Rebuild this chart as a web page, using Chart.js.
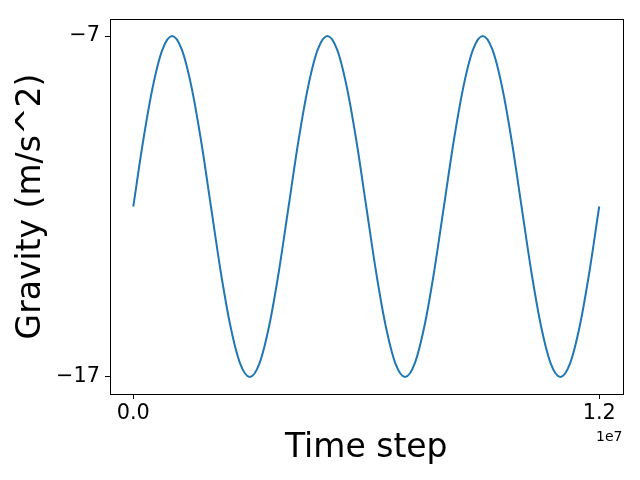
<!DOCTYPE html>
<html>
<head>
<meta charset="utf-8">
<script src="https://cdn.jsdelivr.net/npm/chart.js@4/dist/chart.umd.min.js"></script>
<style>
	html, body { margin: 0; padding: 0; background: #fff; }
	#wrap { width: 640px; height: 480px; }
</style>
</head>
<body>
<div id="wrap"><canvas id="gravityChart" width="640" height="480"></canvas></div>
<script>
// Values (time step in raw units, gravity in m/s^2)
const timeSteps = [
	0, 250000, 500000, 750000, 1000000, 1250000, 1500000, 1750000,
	2000000, 2250000, 2500000, 2750000, 3000000, 3250000, 3500000, 3750000,
	4000000, 4250000, 4500000, 4750000, 5000000, 5250000, 5500000, 5750000,
	6000000, 6250000, 6500000, 6750000, 7000000, 7250000, 7500000, 7750000,
	8000000, 8250000, 8500000, 8750000, 9000000, 9250000, 9500000, 9750000,
	10000000, 10250000, 10500000, 10750000, 11000000, 11250000, 11500000, 11750000,
	12000000
];
const gravity = [
	-12, -10.1, -8.5, -7.4, -7, -7.4, -8.5, -10.1,
	-12, -13.9, -15.5, -16.6, -17, -16.6, -15.5, -13.9,
	-12, -10.1, -8.5, -7.4, -7, -7.4, -8.5, -10.1,
	-12, -13.9, -15.5, -16.6, -17, -16.6, -15.5, -13.9,
	-12, -10.1, -8.5, -7.4, -7, -7.4, -8.5, -10.1,
	-12, -13.9, -15.5, -16.6, -17, -16.6, -15.5, -13.9,
	-12
];
const xTicks = [0, 12000000];
const yTicks = [-17, -7];
const xOffsetLabel = '1e7';

const FONT = "'DejaVu Sans', sans-serif";
const LINE_COLOR = '#1f77b4';

// Draws the full black frame and the matplotlib-style offset label
const framePlugin = {
	id: 'frame',
	afterDraw(chart) {
		const { ctx, chartArea: a } = chart;
		ctx.save();
		ctx.strokeStyle = '#000';
		ctx.lineWidth = 1;
		ctx.strokeRect(Math.round(a.left) + 0.5, Math.round(a.top) + 0.5,
			Math.round(a.right - a.left), Math.round(a.bottom - a.top));
		ctx.fillStyle = '#000';
		ctx.font = '14px ' + FONT;
		ctx.textAlign = 'right';
		ctx.textBaseline = 'top';
		ctx.fillText(xOffsetLabel, a.right, 430);
		ctx.restore();
	}
};

const ctx = document.getElementById('gravityChart').getContext('2d');
new Chart(ctx, {
	type: 'line',
	data: {
		datasets: [{
			data: timeSteps.map((t, i) => ({ x: t, y: gravity[i] })),
			borderColor: LINE_COLOR,
			backgroundColor: LINE_COLOR,
			borderWidth: 2,
			pointRadius: 0,
			fill: false,
			cubicInterpolationMode: 'monotone'
		}]
	},
	options: {
		responsive: false,
		animation: false,
		layout: { padding: { top: 19, right: 17.5, left: 0, bottom: 0 } },
		plugins: { legend: { display: false }, tooltip: { enabled: false } },
		scales: {
			x: {
				type: 'linear',
				min: -600000,
				max: 12600000,
				afterBuildTicks: (scale) => { scale.ticks = xTicks.map(v => ({ value: v })); },
				afterFit: (scale) => { scale.height = 86; },
				border: { display: true, color: '#000', width: 1 },
				grid: { drawOnChartArea: false, tickLength: 5, tickColor: '#000', tickWidth: 1 },
				ticks: {
					color: '#000',
					font: { family: FONT, size: 20.8 },
					padding: 2,
					maxRotation: 0,
					autoSkip: false,
					callback: (v) => (v / 1e7).toFixed(1)
				},
				title: {
					display: true,
					text: 'Time step',
					color: '#000',
					font: { family: FONT, size: 33, lineHeight: 1 },
					padding: { top: 0, bottom: 15 }
				}
			},
			y: {
				type: 'linear',
				min: -17.5,
				max: -6.5,
				afterBuildTicks: (scale) => { scale.ticks = yTicks.map(v => ({ value: v })); },
				afterFit: (scale) => { scale.width = 110; },
				border: { display: true, color: '#000', width: 1 },
				grid: { drawOnChartArea: false, tickLength: 5, tickColor: '#000', tickWidth: 1 },
				ticks: {
					color: '#000',
					font: { family: FONT, size: 20.8 },
					padding: 5,
					autoSkip: false,
					callback: (v) => String(v).replace('-', '\u2212')
				},
				title: {
					display: true,
					text: 'Gravity (m/s^2)',
					color: '#000',
					font: { family: FONT, size: 33, lineHeight: 1 },
					padding: { top: 15, bottom: 0 }
				}
			}
		}
	},
	plugins: [framePlugin]
});
</script>
</body>
</html>
